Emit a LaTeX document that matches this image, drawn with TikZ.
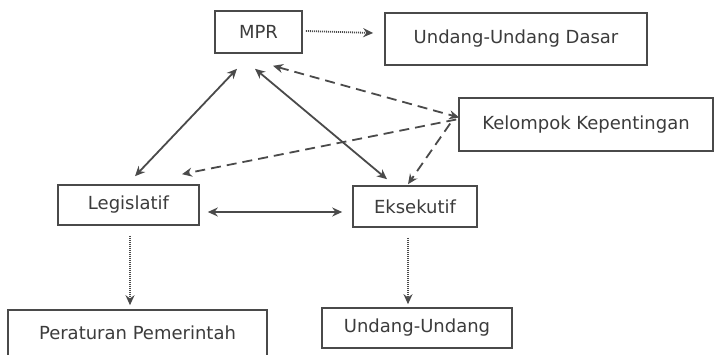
\documentclass[tikz,border=0pt]{standalone}
\usepackage{fontspec}
\setmainfont{DejaVu Sans}
\usetikzlibrary{arrows.meta}
\definecolor{ink}{HTML}{3C3C3C}
\definecolor{linec}{HTML}{4A4A4A}
\begin{document}
\begin{tikzpicture}[x=1pt,y=-1pt,
  box/.style={draw=linec,line width=1.6pt,text=ink,font=\fontsize{18}{20}\selectfont,inner sep=0pt,anchor=center},
  conn/.style={draw=linec,line width=1.8pt},
  tip/.style={-{Stealth[length=10pt,width=9pt]}},
  both/.style={{Stealth[length=10pt,width=9pt]}-{Stealth[length=10pt,width=9pt]}},
  dotline/.style={dash pattern=on 1pt off 1pt},
  dashline/.style={dash pattern=on 10pt off 6pt}]
\useasboundingbox (0,0) rectangle (714,355);
\fill[white] (0,0) rectangle (714,355);
\node[box,minimum width=87pt,minimum height=42pt] (mpr) at (258.5,32) {MPR};
\node[box,minimum width=262pt,minimum height=52pt] (uud) at (516,39) {Undang-Undang Dasar};
\node[box,minimum width=254pt,minimum height=53pt] (kk) at (586,124.5) {Kelompok Kepentingan};
\node[box,minimum width=141pt,minimum height=40pt] (leg) at (128.5,205) {Legislatif};
\node[box,minimum width=124pt,minimum height=41pt] (eks) at (415,206.5) {Eksekutif};
\node[box,minimum width=259pt,minimum height=52pt,text depth=0pt] (pp) at (137.5,336) {\raisebox{6pt}{Peraturan Pemerintah}};
\node[box,minimum width=190pt,minimum height=40pt] (uu) at (417,328) {Undang-Undang};
% solid double arrows
\draw[conn,both] ([xshift=-21.5pt,yshift=-15pt]mpr.south) -- ([xshift=6.5pt,yshift=8pt]leg.north);
\draw[conn,both] ([xshift=-3.5pt,yshift=-15pt]mpr.south) -- ([xshift=-28pt,yshift=6pt]eks.north);
\draw[conn,both] ([xshift=8pt,yshift=-7pt]leg.east) -- ([xshift=-10pt,yshift=-5.5pt]eks.west);
% dashed from interest groups
\draw[conn,both,dashline] ([xshift=14.5pt,yshift=-12pt]mpr.south) -- ([xshift=1pt,yshift=7pt]kk.west);
\draw[conn,tip,dashline] ([xshift=-2pt,yshift=5pt]kk.west) -- ([xshift=53.5pt,yshift=10pt]leg.north);
\draw[conn,tip,dashline] ([xshift=-8pt,yshift=1pt]kk.west) -- ([xshift=-7pt,yshift=1pt]eks.north);
% dotted outputs
\draw[conn,tip,dotline] ([xshift=3pt,yshift=1pt]mpr.east) -- ([xshift=-11pt,yshift=6pt]uud.west);
\draw[conn,tip,dotline] ([xshift=1.5pt,yshift=-10pt]leg.south) -- ([xshift=-7.5pt,yshift=4pt]pp.north);
\draw[conn,tip,dotline] ([xshift=-7pt,yshift=-10pt]eks.south) -- ([xshift=-9pt,yshift=3pt]uu.north);
\end{tikzpicture}
\end{document}
